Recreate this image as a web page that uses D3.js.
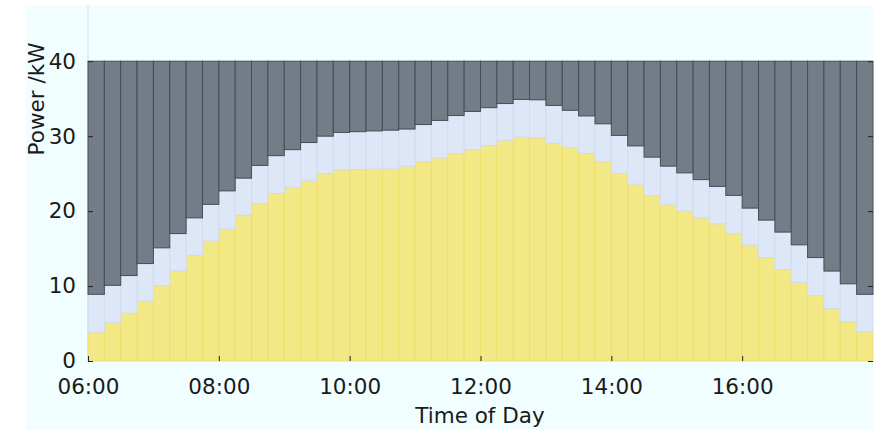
<!DOCTYPE html>
<html>
<head>
<meta charset="utf-8">
<script src="https://cdn.jsdelivr.net/npm/d3@7"></script>
<style>
  html, body { margin: 0; padding: 0; background: #ffffff; }
  svg { display: block; }
  text { font-family: "DejaVu Sans", sans-serif; fill: #1a1a1a; }
</style>
</head>
<body>
<svg id="chart" width="879" height="430"></svg>
<script>
// ---- Data ----
const slotStarts = [
  "06:00","06:15","06:30","06:45","07:00","07:15","07:30","07:45",
  "08:00","08:15","08:30","08:45","09:00","09:15","09:30","09:45",
  "10:00","10:15","10:30","10:45","11:00","11:15","11:30","11:45",
  "12:00","12:15","12:30","12:45","13:00","13:15","13:30","13:45",
  "14:00","14:15","14:30","14:45","15:00","15:15","15:30","15:45",
  "16:00","16:15","16:30","16:45","17:00","17:15","17:30","17:45"
];
// bottom (yellow) segment, kW
const yellowValues = [
  3.85, 5.1, 6.35, 8.0, 10.05, 12.05, 14.1, 16.0,
  17.65, 19.45, 21.0, 22.35, 23.2, 24.1, 25.0, 25.5,
  25.55, 25.6, 25.7, 26.0, 26.6, 27.1, 27.7, 28.2,
  28.75, 29.45, 29.9, 29.8, 29.05, 28.5, 27.7, 26.6,
  25.05, 23.6, 22.1, 20.9, 20.0, 19.1, 18.3, 17.0,
  15.5, 13.8, 12.2, 10.5, 8.75, 7.0, 5.25, 3.9
];
// middle (light blue) segment, kW
const blueValues = [
  5.05, 5.0, 5.05, 5.0, 5.05, 4.95, 5.0, 4.9,
  5.05, 4.95, 5.1, 5.05, 5.0, 5.05, 5.0, 5.0,
  5.05, 5.1, 5.1, 4.95, 4.95, 5.0, 5.05, 5.1,
  5.05, 4.9, 5.0, 5.05, 5.05, 4.95, 5.0, 5.05,
  5.05, 5.1, 5.1, 5.1, 5.1, 5.1, 5.0, 5.1,
  4.9, 5.0, 5.0, 5.0, 5.05, 5.0, 5.05, 5.0
];
// top (dark grey) segment, kW
const greyValues = [
  31.1, 29.9, 28.6, 27.0, 24.9, 23.0, 20.9, 19.1,
  17.3, 15.6, 13.9, 12.6, 11.8, 10.85, 10.0, 9.5,
  9.4, 9.3, 9.2, 9.05, 8.45, 7.9, 7.25, 6.7,
  6.2, 5.65, 5.1, 5.15, 5.9, 6.55, 7.3, 8.35,
  9.9, 11.3, 12.8, 14.0, 14.9, 15.8, 16.7, 17.9,
  19.6, 21.2, 22.8, 24.5, 26.2, 28.0, 29.7, 31.1
];
const xTickLabels = ["06:00","08:00","10:00","12:00","14:00","16:00"];
const yTickValues = [0, 10, 20, 30, 40];
const xAxisTitle = "Time of Day";
const yAxisTitle = "Power /kW";

// ---- Layout ----
const plotLeft = 88, plotRight = 873, plotTop = 5, plotBottom = 361;
const toHours = s => { const [h, m] = s.split(":").map(Number); return h + m / 60; };

const x = d3.scaleLinear().domain([6, 18]).range([plotLeft, plotRight]);
const y = d3.scaleLinear().domain([0, 47.5]).range([plotBottom, plotTop]);

const svg = d3.select("#chart");

// backgrounds
svg.append("rect").attr("x", 0).attr("y", 0).attr("width", 879).attr("height", 430).attr("fill", "#ffffff");
svg.append("rect").attr("x", 26).attr("y", 5).attr("width", plotRight - 26).attr("height", 425).attr("fill", "#f1feff");
svg.append("line").attr("x1", plotLeft).attr("x2", plotLeft).attr("y1", plotTop).attr("y2", plotBottom)
  .attr("stroke", "#d6dde8").attr("stroke-width", 1);

// stacked data
const rows = slotStarts.map((t, i) => ({ t, yellow: yellowValues[i], blue: blueValues[i], grey: greyValues[i] }));
const stack = d3.stack().keys(["yellow", "blue", "grey"]);
const series = stack(rows);
const fills = { yellow: "#f3e886", blue: "#dde7f8", grey: "#747c88" };
const edges = { yellow: "#eedf6a", blue: "#d2dcef", grey: "#454c57" };
const slot = 0.25;

series.forEach(s => {
  svg.append("g").selectAll("rect").data(s).join("rect")
    .attr("x", d => x(toHours(d.data.t)))
    .attr("width", x(6 + slot) - x(6))
    .attr("y", d => y(d[1]))
    .attr("height", d => y(d[0]) - y(d[1]))
    .attr("fill", fills[s.key])
    .attr("stroke", edges[s.key])
    .attr("stroke-width", 1);
});

// axes (ticks inward)
const xTickVals = xTickLabels.map(toHours);
const xAxis = d3.axisBottom(x).tickValues(xTickVals).tickFormat((d, i) => xTickLabels[i]).tickSizeInner(-5).tickSizeOuter(0).tickPadding(18);
const gx = svg.append("g").attr("transform", `translate(0,${plotBottom})`).call(xAxis);
gx.select(".domain").remove();
gx.selectAll(".tick line").attr("stroke", "#222").attr("stroke-width", 1);
gx.selectAll("text").attr("font-size", 21.5).attr("fill", "#1a1a1a").attr("dy", "0.71em");

const yAxis = d3.axisLeft(y).tickValues(yTickValues).tickFormat(d3.format("d")).tickSizeInner(-5).tickSizeOuter(0).tickPadding(12);
const gy = svg.append("g").attr("transform", `translate(${plotLeft},0)`).call(yAxis);
gy.select(".domain").remove();
gy.selectAll(".tick line").attr("stroke", "#222").attr("stroke-width", 1);
gy.selectAll("text").attr("font-size", 21.5).attr("fill", "#1a1a1a");

const yAxisR = d3.axisRight(y).tickValues(yTickValues).tickFormat("").tickSizeInner(-5).tickSizeOuter(0);
const gyr = svg.append("g").attr("transform", `translate(${plotRight},0)`).call(yAxisR);
gyr.select(".domain").remove();
gyr.selectAll(".tick line").attr("stroke", "#222").attr("stroke-width", 1);

// titles
svg.append("text").attr("x", 480).attr("y", 423).attr("text-anchor", "middle").attr("font-size", 21.5).text(xAxisTitle);
svg.append("text").attr("transform", "translate(44,99) rotate(-90)").attr("text-anchor", "middle").attr("font-size", 21.5).text(yAxisTitle);
</script>
</body>
</html>
